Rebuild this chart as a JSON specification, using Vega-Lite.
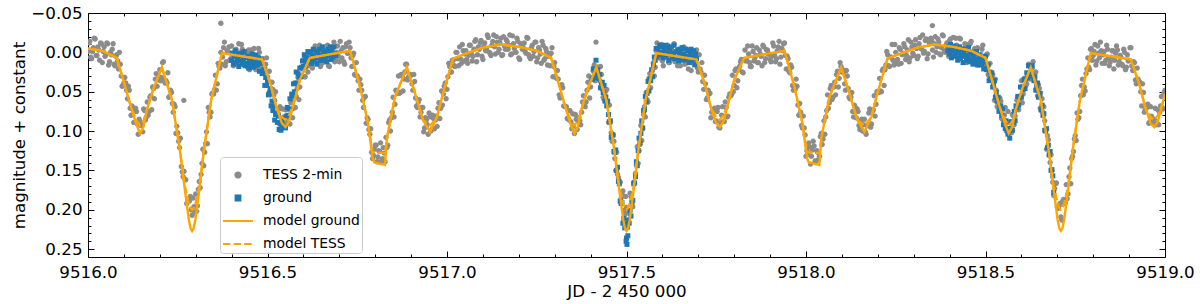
{
"$schema": "https://vega.github.io/schema/vega-lite/v6.json",
"width": 1077, "height": 244,
"autosize": {"type": "none"},
"padding": {"left": 88, "top": 13, "right": 35, "bottom": 47},
"config": {
 "font": "DejaVu Sans",
 "view": {"stroke": "#000000", "strokeWidth": 1},
 "axis": {"grid": false, "domain": false, "tickColor": "#000000", "tickWidth": 1, "labelColor": "#000000", "titleColor": "#000000", "labelFont": "DejaVu Sans", "titleFont": "DejaVu Sans", "labelFontSize": 16.7, "titleFontSize": 16.7, "titleFontWeight": "normal", "labelFlush": false, "labelOverlap": false, "labelBound": false}
},
"resolve": {"axis": {"x": "independent", "y": "independent"}},
"datasets": {
"tess": [
{"t":9516.000,"m":-0.001},{"t":9516.005,"m":-0.014},{"t":9516.010,"m":0.008},{"t":9516.015,"m":-0.006},{"t":9516.020,"m":-0.017},{"t":9516.025,"m":0.004},{"t":9516.030,"m":-0.003},{"t":9516.035,"m":-0.012},{"t":9516.040,"m":0.013},{"t":9516.045,"m":-0.007},
{"t":9516.050,"m":0.003},{"t":9516.055,"m":-0.011},{"t":9516.060,"m":0.012},{"t":9516.065,"m":0.003},{"t":9516.070,"m":-0.011},{"t":9516.075,"m":0.017},{"t":9516.080,"m":0.003},{"t":9516.085,"m":0.021},{"t":9516.090,"m":0.015},{"t":9516.095,"m":0.043},
{"t":9516.100,"m":0.039},{"t":9516.105,"m":0.039},{"t":9516.110,"m":0.059},{"t":9516.115,"m":0.048},{"t":9516.120,"m":0.080},{"t":9516.125,"m":0.072},{"t":9516.130,"m":0.089},{"t":9516.135,"m":0.075},{"t":9516.140,"m":0.104},{"t":9516.145,"m":0.088},
{"t":9516.150,"m":0.092},{"t":9516.155,"m":0.072},{"t":9516.160,"m":0.086},{"t":9516.165,"m":0.063},{"t":9516.170,"m":0.075},{"t":9516.175,"m":0.055},{"t":9516.180,"m":0.044},{"t":9516.185,"m":0.059},{"t":9516.190,"m":0.027},{"t":9516.195,"m":0.035},
{"t":9516.200,"m":0.022},{"t":9516.205,"m":0.032},{"t":9516.210,"m":0.012},{"t":9516.215,"m":0.039},{"t":9516.220,"m":0.039},{"t":9516.225,"m":0.057},{"t":9516.230,"m":0.048},{"t":9516.235,"m":0.065},{"t":9516.240,"m":0.066},{"t":9516.245,"m":0.103},
{"t":9516.250,"m":0.102},{"t":9516.255,"m":0.121},{"t":9516.260,"m":0.145},{"t":9516.265,"m":0.158},{"t":9516.270,"m":0.161},{"t":9516.275,"m":0.192},{"t":9516.280,"m":0.188},{"t":9516.285,"m":0.183},{"t":9516.290,"m":0.207},{"t":9516.295,"m":0.196},
{"t":9516.300,"m":0.180},{"t":9516.305,"m":0.195},{"t":9516.310,"m":0.164},{"t":9516.315,"m":0.155},{"t":9516.320,"m":0.123},{"t":9516.325,"m":0.127},{"t":9516.330,"m":0.101},{"t":9516.335,"m":0.070},{"t":9516.340,"m":0.082},{"t":9516.345,"m":0.053},
{"t":9516.350,"m":0.053},{"t":9516.355,"m":0.029},{"t":9516.360,"m":0.040},{"t":9516.365,"m":0.018},{"t":9516.370,"m":0.000},{"t":9516.375,"m":0.006},{"t":9516.380,"m":-0.013},{"t":9516.385,"m":0.012},{"t":9516.390,"m":-0.001},{"t":9516.395,"m":0.010},
{"t":9516.400,"m":-0.008},{"t":9516.405,"m":0.017},{"t":9516.410,"m":-0.002},{"t":9516.415,"m":0.006},{"t":9516.420,"m":-0.011},{"t":9516.425,"m":0.011},{"t":9516.430,"m":-0.004},{"t":9516.435,"m":0.016},{"t":9516.440,"m":0.003},{"t":9516.445,"m":0.000},
{"t":9516.450,"m":0.022},{"t":9516.455,"m":-0.003},{"t":9516.460,"m":0.010},{"t":9516.465,"m":0.003},{"t":9516.470,"m":0.020},{"t":9516.475,"m":-0.005},{"t":9516.480,"m":0.014},{"t":9516.485,"m":0.008},{"t":9516.490,"m":0.025},{"t":9516.495,"m":0.015},
{"t":9516.500,"m":0.031},{"t":9516.505,"m":0.024},{"t":9516.510,"m":0.054},{"t":9516.515,"m":0.047},{"t":9516.520,"m":0.061},{"t":9516.525,"m":0.078},{"t":9516.530,"m":0.078},{"t":9516.535,"m":0.069},{"t":9516.540,"m":0.094},{"t":9516.545,"m":0.082},
{"t":9516.550,"m":0.073},{"t":9516.555,"m":0.090},{"t":9516.560,"m":0.080},{"t":9516.565,"m":0.064},{"t":9516.570,"m":0.083},{"t":9516.575,"m":0.056},{"t":9516.580,"m":0.056},{"t":9516.585,"m":0.032},{"t":9516.590,"m":0.044},{"t":9516.595,"m":0.029},
{"t":9516.600,"m":0.009},{"t":9516.605,"m":0.031},{"t":9516.610,"m":0.011},{"t":9516.615,"m":0.016},{"t":9516.620,"m":-0.001},{"t":9516.625,"m":0.020},{"t":9516.630,"m":0.007},{"t":9516.635,"m":-0.001},{"t":9516.640,"m":0.010},{"t":9516.645,"m":-0.009},
{"t":9516.650,"m":0.015},{"t":9516.655,"m":0.001},{"t":9516.660,"m":0.012},{"t":9516.665,"m":-0.008},{"t":9516.670,"m":0.017},{"t":9516.675,"m":-0.002},{"t":9516.680,"m":0.004},{"t":9516.685,"m":-0.013},{"t":9516.690,"m":0.008},{"t":9516.695,"m":-0.008},
{"t":9516.700,"m":0.012},{"t":9516.705,"m":-0.002},{"t":9516.710,"m":-0.006},{"t":9516.715,"m":0.015},{"t":9516.720,"m":-0.011},{"t":9516.725,"m":0.001},{"t":9516.730,"m":-0.006},{"t":9516.735,"m":0.018},{"t":9516.740,"m":0.001},{"t":9516.745,"m":0.029},
{"t":9516.750,"m":0.030},{"t":9516.755,"m":0.048},{"t":9516.760,"m":0.041},{"t":9516.765,"m":0.061},{"t":9516.770,"m":0.057},{"t":9516.775,"m":0.090},{"t":9516.780,"m":0.085},{"t":9516.785,"m":0.104},{"t":9516.790,"m":0.127},{"t":9516.795,"m":0.131},
{"t":9516.800,"m":0.118},{"t":9516.805,"m":0.139},{"t":9516.810,"m":0.125},{"t":9516.815,"m":0.115},{"t":9516.820,"m":0.135},{"t":9516.825,"m":0.128},{"t":9516.830,"m":0.108},{"t":9516.835,"m":0.118},{"t":9516.840,"m":0.086},{"t":9516.845,"m":0.083},
{"t":9516.850,"m":0.057},{"t":9516.855,"m":0.066},{"t":9516.860,"m":0.050},{"t":9516.865,"m":0.030},{"t":9516.870,"m":0.051},{"t":9516.875,"m":0.030},{"t":9516.880,"m":0.034},{"t":9516.885,"m":0.015},{"t":9516.890,"m":0.035},{"t":9516.895,"m":0.030},
{"t":9516.900,"m":0.029},{"t":9516.905,"m":0.048},{"t":9516.910,"m":0.037},{"t":9516.915,"m":0.068},{"t":9516.920,"m":0.063},{"t":9516.925,"m":0.082},{"t":9516.930,"m":0.070},{"t":9516.935,"m":0.101},{"t":9516.940,"m":0.083},{"t":9516.945,"m":0.092},
{"t":9516.950,"m":0.077},{"t":9516.955,"m":0.100},{"t":9516.960,"m":0.080},{"t":9516.965,"m":0.097},{"t":9516.970,"m":0.081},{"t":9516.975,"m":0.071},{"t":9516.980,"m":0.084},{"t":9516.985,"m":0.049},{"t":9516.990,"m":0.053},{"t":9516.995,"m":0.039},
{"t":9517.000,"m":0.047},{"t":9517.005,"m":0.014},{"t":9517.010,"m":0.025},{"t":9517.015,"m":0.010},{"t":9517.020,"m":0.017},{"t":9517.025,"m":0.000},{"t":9517.030,"m":0.008},{"t":9517.035,"m":-0.007},{"t":9517.040,"m":0.014},{"t":9517.045,"m":-0.002},
{"t":9517.050,"m":0.002},{"t":9517.055,"m":0.009},{"t":9517.060,"m":0.004},{"t":9517.065,"m":-0.009},{"t":9517.070,"m":0.011},{"t":9517.075,"m":-0.004},{"t":9517.080,"m":-0.016},{"t":9517.085,"m":0.003},{"t":9517.090,"m":-0.004},{"t":9517.095,"m":-0.015},
{"t":9517.100,"m":0.009},{"t":9517.105,"m":-0.012},{"t":9517.110,"m":-0.004},{"t":9517.115,"m":-0.019},{"t":9517.120,"m":0.001},{"t":9517.125,"m":-0.009},{"t":9517.130,"m":-0.022},{"t":9517.135,"m":0.002},{"t":9517.140,"m":-0.013},{"t":9517.145,"m":-0.004},
{"t":9517.150,"m":-0.018},{"t":9517.155,"m":0.003},{"t":9517.160,"m":-0.008},{"t":9517.165,"m":-0.016},{"t":9517.170,"m":-0.004},{"t":9517.175,"m":-0.022},{"t":9517.180,"m":0.002},{"t":9517.185,"m":-0.011},{"t":9517.190,"m":0.000},{"t":9517.195,"m":-0.018},
{"t":9517.200,"m":0.007},{"t":9517.205,"m":-0.011},
{"t":9517.210,"m":-0.004},{"t":9517.215,"m":-0.012},{"t":9517.220,"m":0.001},{"t":9517.225,"m":-0.018},{"t":9517.230,"m":0.006},{"t":9517.235,"m":-0.006},{"t":9517.240,"m":0.005},{"t":9517.245,"m":-0.013},{"t":9517.250,"m":0.012},{"t":9517.255,"m":-0.006},
{"t":9517.260,"m":0.002},{"t":9517.265,"m":-0.014},{"t":9517.270,"m":0.010},{"t":9517.275,"m":-0.005},{"t":9517.280,"m":0.016},{"t":9517.285,"m":0.004},{"t":9517.290,"m":0.001},{"t":9517.295,"m":0.031},{"t":9517.300,"m":0.013},{"t":9517.305,"m":0.033},
{"t":9517.310,"m":0.034},{"t":9517.315,"m":0.058},{"t":9517.320,"m":0.041},{"t":9517.325,"m":0.068},{"t":9517.330,"m":0.069},{"t":9517.335,"m":0.084},{"t":9517.340,"m":0.074},{"t":9517.345,"m":0.088},{"t":9517.350,"m":0.078},{"t":9517.355,"m":0.103},
{"t":9517.360,"m":0.085},{"t":9517.365,"m":0.087},{"t":9517.370,"m":0.087},{"t":9517.375,"m":0.076},{"t":9517.380,"m":0.055},{"t":9517.385,"m":0.069},{"t":9517.390,"m":0.048},{"t":9517.395,"m":0.030},{"t":9517.400,"m":0.044},{"t":9517.405,"m":0.032},
{"t":9517.410,"m":0.016},{"t":9517.415,"m":0.035},{"t":9517.420,"m":0.019},{"t":9517.425,"m":0.036},{"t":9517.430,"m":0.028},{"t":9517.435,"m":0.057},{"t":9517.440,"m":0.054},{"t":9517.445,"m":0.047},{"t":9517.450,"m":0.089},{"t":9517.455,"m":0.089},
{"t":9517.460,"m":0.113},{"t":9517.465,"m":0.113},{"t":9517.470,"m":0.150},{"t":9517.475,"m":0.155},{"t":9517.480,"m":0.163},{"t":9517.485,"m":0.185},{"t":9517.490,"m":0.176},{"t":9517.495,"m":0.206},{"t":9517.500,"m":0.197},{"t":9517.505,"m":0.204},
{"t":9517.510,"m":0.179},{"t":9517.515,"m":0.194},{"t":9517.520,"m":0.165},{"t":9517.525,"m":0.154},{"t":9517.530,"m":0.120},{"t":9517.535,"m":0.125},{"t":9517.540,"m":0.093},{"t":9517.545,"m":0.097},{"t":9517.550,"m":0.069},{"t":9517.555,"m":0.051},
{"t":9517.560,"m":0.063},{"t":9517.565,"m":0.027},{"t":9517.570,"m":0.030},{"t":9517.575,"m":0.013},{"t":9517.580,"m":0.019},{"t":9517.585,"m":-0.012},{"t":9517.590,"m":0.007},{"t":9517.595,"m":0.001},{"t":9517.600,"m":0.011},{"t":9517.605,"m":-0.005},
{"t":9517.610,"m":0.005},{"t":9517.615,"m":-0.009},{"t":9517.620,"m":0.013},{"t":9517.625,"m":-0.001},{"t":9517.630,"m":0.004},{"t":9517.635,"m":0.012},{"t":9517.640,"m":0.009},{"t":9517.645,"m":-0.004},{"t":9517.650,"m":0.017},{"t":9517.655,"m":0.004},
{"t":9517.660,"m":-0.007},{"t":9517.665,"m":0.014},{"t":9517.670,"m":0.007},{"t":9517.675,"m":-0.003},{"t":9517.680,"m":0.023},{"t":9517.685,"m":0.002},{"t":9517.690,"m":0.011},{"t":9517.695,"m":-0.003},{"t":9517.700,"m":0.025},{"t":9517.705,"m":0.021},
{"t":9517.710,"m":0.013},{"t":9517.715,"m":0.047},{"t":9517.720,"m":0.040},{"t":9517.725,"m":0.058},{"t":9517.730,"m":0.053},{"t":9517.735,"m":0.083},{"t":9517.740,"m":0.075},{"t":9517.745,"m":0.071},{"t":9517.750,"m":0.087},{"t":9517.755,"m":0.070},
{"t":9517.760,"m":0.096},{"t":9517.765,"m":0.080},{"t":9517.770,"m":0.088},{"t":9517.775,"m":0.063},{"t":9517.780,"m":0.082},{"t":9517.785,"m":0.057},{"t":9517.790,"m":0.055},{"t":9517.795,"m":0.029},{"t":9517.800,"m":0.042},{"t":9517.805,"m":0.021},
{"t":9517.810,"m":0.036},{"t":9517.815,"m":0.018},{"t":9517.820,"m":0.009},{"t":9517.825,"m":0.026},{"t":9517.830,"m":-0.003},{"t":9517.835,"m":0.010},{"t":9517.840,"m":0.002},{"t":9517.845,"m":0.018},{"t":9517.850,"m":-0.008},{"t":9517.855,"m":0.011},
{"t":9517.860,"m":0.004},{"t":9517.865,"m":0.013},{"t":9517.870,"m":-0.003},{"t":9517.875,"m":0.005},{"t":9517.880,"m":-0.009},{"t":9517.885,"m":0.013},{"t":9517.890,"m":-0.003},{"t":9517.895,"m":0.002},{"t":9517.900,"m":0.009},{"t":9517.905,"m":0.005},
{"t":9517.910,"m":-0.008},{"t":9517.915,"m":0.012},{"t":9517.920,"m":-0.002},{"t":9517.925,"m":-0.014},{"t":9517.930,"m":0.006},{"t":9517.935,"m":-0.002},{"t":9517.940,"m":-0.012},{"t":9517.945,"m":0.021},{"t":9517.950,"m":0.008},{"t":9517.955,"m":0.026},
{"t":9517.960,"m":0.019},{"t":9517.965,"m":0.048},{"t":9517.970,"m":0.047},{"t":9517.975,"m":0.043},{"t":9517.980,"m":0.080},{"t":9517.985,"m":0.076},{"t":9517.990,"m":0.096},{"t":9517.995,"m":0.096},{"t":9518.000,"m":0.132},{"t":9518.005,"m":0.128},
{"t":9518.010,"m":0.120},{"t":9518.015,"m":0.132},{"t":9518.020,"m":0.113},{"t":9518.025,"m":0.138},{"t":9518.030,"m":0.125},{"t":9518.035,"m":0.136},{"t":9518.040,"m":0.107},{"t":9518.045,"m":0.117},{"t":9518.050,"m":0.087},{"t":9518.055,"m":0.082},
{"t":9518.060,"m":0.054},{"t":9518.065,"m":0.064},{"t":9518.070,"m":0.042},{"t":9518.075,"m":0.057},{"t":9518.080,"m":0.038},{"t":9518.085,"m":0.028},{"t":9518.090,"m":0.044},{"t":9518.095,"m":0.013},{"t":9518.100,"m":0.025},{"t":9518.105,"m":0.025},
{"t":9518.110,"m":0.048},{"t":9518.115,"m":0.030},{"t":9518.120,"m":0.057},{"t":9518.125,"m":0.057},{"t":9518.130,"m":0.075},{"t":9518.135,"m":0.067},{"t":9518.140,"m":0.083},{"t":9518.145,"m":0.075},{"t":9518.150,"m":0.098},{"t":9518.155,"m":0.085},
{"t":9518.160,"m":0.092},{"t":9518.165,"m":0.101},{"t":9518.170,"m":0.093},{"t":9518.175,"m":0.077},{"t":9518.180,"m":0.095},{"t":9518.185,"m":0.075},{"t":9518.190,"m":0.055},{"t":9518.195,"m":0.066},{"t":9518.200,"m":0.050},{"t":9518.205,"m":0.033},
{"t":9518.210,"m":0.050},{"t":9518.215,"m":0.021},{"t":9518.220,"m":0.022},{"t":9518.225,"m":-0.001},{"t":9518.230,"m":0.017},{"t":9518.235,"m":0.006},{"t":9518.240,"m":-0.010},{"t":9518.245,"m":0.016},{"t":9518.250,"m":0.000},{"t":9518.255,"m":0.009},
{"t":9518.260,"m":-0.006},{"t":9518.265,"m":0.014},{"t":9518.270,"m":0.001},{"t":9518.275,"m":-0.007},{"t":9518.280,"m":0.004},{"t":9518.285,"m":-0.016},{"t":9518.290,"m":0.007},{"t":9518.295,"m":-0.007},{"t":9518.300,"m":0.004},{"t":9518.305,"m":-0.016},
{"t":9518.310,"m":0.008},{"t":9518.315,"m":-0.011},{"t":9518.320,"m":-0.005},{"t":9518.325,"m":-0.022},{"t":9518.330,"m":-0.001},{"t":9518.335,"m":-0.017},{"t":9518.340,"m":0.002},{"t":9518.345,"m":-0.011},{"t":9518.350,"m":-0.015},{"t":9518.355,"m":0.006},
{"t":9518.360,"m":-0.020},{"t":9518.365,"m":-0.007},{"t":9518.370,"m":-0.013},{"t":9518.375,"m":0.003},{"t":9518.380,"m":-0.022},{"t":9518.385,"m":-0.002},{"t":9518.390,"m":-0.009},{"t":9518.395,"m":0.001},{"t":9518.400,"m":-0.015},{"t":9518.405,"m":-0.005},
{"t":9518.410,"m":-0.019},{"t":9518.415,"m":0.004},
{"t":9518.420,"m":-0.009},{"t":9518.425,"m":0.007},{"t":9518.430,"m":-0.017},{"t":9518.435,"m":0.002},{"t":9518.440,"m":-0.005},{"t":9518.445,"m":0.006},{"t":9518.450,"m":-0.010},{"t":9518.455,"m":0.000},{"t":9518.460,"m":-0.014},{"t":9518.465,"m":0.009},
{"t":9518.470,"m":-0.005},{"t":9518.475,"m":0.001},{"t":9518.480,"m":0.011},{"t":9518.485,"m":0.008},{"t":9518.490,"m":-0.004},{"t":9518.495,"m":0.018},{"t":9518.500,"m":0.005},{"t":9518.505,"m":0.002},{"t":9518.510,"m":0.030},{"t":9518.515,"m":0.030},
{"t":9518.520,"m":0.028},{"t":9518.525,"m":0.061},{"t":9518.530,"m":0.048},{"t":9518.535,"m":0.065},{"t":9518.540,"m":0.058},{"t":9518.545,"m":0.084},{"t":9518.550,"m":0.080},{"t":9518.555,"m":0.070},{"t":9518.560,"m":0.101},{"t":9518.565,"m":0.089},
{"t":9518.570,"m":0.096},{"t":9518.575,"m":0.079},{"t":9518.580,"m":0.092},{"t":9518.585,"m":0.073},{"t":9518.590,"m":0.057},{"t":9518.595,"m":0.062},{"t":9518.600,"m":0.036},{"t":9518.605,"m":0.053},{"t":9518.610,"m":0.034},{"t":9518.615,"m":0.040},
{"t":9518.620,"m":0.015},{"t":9518.625,"m":0.034},{"t":9518.630,"m":0.020},{"t":9518.635,"m":0.035},{"t":9518.640,"m":0.025},{"t":9518.645,"m":0.055},{"t":9518.650,"m":0.046},{"t":9518.655,"m":0.074},{"t":9518.660,"m":0.076},{"t":9518.665,"m":0.087},
{"t":9518.670,"m":0.123},{"t":9518.675,"m":0.111},{"t":9518.680,"m":0.140},{"t":9518.685,"m":0.150},{"t":9518.690,"m":0.182},{"t":9518.695,"m":0.167},{"t":9518.700,"m":0.196},{"t":9518.705,"m":0.195},{"t":9518.710,"m":0.209},{"t":9518.715,"m":0.189},
{"t":9518.720,"m":0.192},{"t":9518.725,"m":0.168},{"t":9518.730,"m":0.180},{"t":9518.735,"m":0.147},{"t":9518.740,"m":0.135},{"t":9518.745,"m":0.126},{"t":9518.750,"m":0.106},{"t":9518.755,"m":0.077},{"t":9518.760,"m":0.083},{"t":9518.765,"m":0.055},
{"t":9518.770,"m":0.034},{"t":9518.775,"m":0.044},{"t":9518.780,"m":0.027},{"t":9518.785,"m":0.007},{"t":9518.790,"m":0.022},{"t":9518.795,"m":-0.005},{"t":9518.800,"m":0.004},{"t":9518.805,"m":-0.010},{"t":9518.810,"m":0.011},{"t":9518.815,"m":0.001},
{"t":9518.820,"m":-0.013},{"t":9518.825,"m":0.014},{"t":9518.830,"m":-0.001},{"t":9518.835,"m":0.010},{"t":9518.840,"m":-0.004},{"t":9518.845,"m":0.017},{"t":9518.850,"m":0.006},{"t":9518.855,"m":-0.002},{"t":9518.860,"m":0.010},{"t":9518.865,"m":-0.008},
{"t":9518.870,"m":0.016},{"t":9518.875,"m":0.004},{"t":9518.880,"m":0.015},{"t":9518.885,"m":-0.004},{"t":9518.890,"m":0.022},{"t":9518.895,"m":0.003},{"t":9518.900,"m":0.010},{"t":9518.905,"m":-0.006},{"t":9518.910,"m":0.023},{"t":9518.915,"m":0.013},
{"t":9518.920,"m":0.040},{"t":9518.925,"m":0.034},{"t":9518.930,"m":0.038},{"t":9518.935,"m":0.068},{"t":9518.940,"m":0.051},{"t":9518.945,"m":0.073},{"t":9518.950,"m":0.070},{"t":9518.955,"m":0.090},{"t":9518.960,"m":0.069},{"t":9518.965,"m":0.090},
{"t":9518.970,"m":0.085},{"t":9518.975,"m":0.092},{"t":9518.980,"m":0.073},{"t":9518.985,"m":0.076},{"t":9518.990,"m":0.056},{"t":9518.995,"m":0.072},{"t":9519.000,"m":0.048},
{"t":9516.370,"m":-0.037},{"t":9516.267,"m":0.061},{"t":9518.352,"m":-0.034},{"t":9517.415,"m":-0.013},
{"t":9516.0025,"m":-0.012},{"t":9516.0075,"m":0.006},{"t":9516.0125,"m":-0.001},{"t":9516.0175,"m":-0.018},{"t":9516.0225,"m":0.004},{"t":9516.0275,"m":-0.007},{"t":9516.0325,"m":0.010},{"t":9516.0375,"m":-0.011},{"t":9516.0425,"m":-0.001},{"t":9516.0475,"m":0.005},
{"t":9516.0525,"m":-0.012},{"t":9516.0575,"m":0.016},{"t":9516.0625,"m":0.000},{"t":9516.0675,"m":-0.004},{"t":9516.0725,"m":0.015},{"t":9516.0775,"m":0.005},{"t":9516.0825,"m":0.011},{"t":9516.0875,"m":0.000},{"t":9516.0925,"m":0.030},{"t":9516.0975,"m":0.042},
{"t":9516.1025,"m":0.032},{"t":9516.1075,"m":0.048},{"t":9516.1125,"m":0.043},{"t":9516.1175,"m":0.071},{"t":9516.1225,"m":0.068},{"t":9516.1275,"m":0.089},{"t":9516.1325,"m":0.071},{"t":9516.1375,"m":0.091},{"t":9516.1425,"m":0.085},{"t":9516.1475,"m":0.093},
{"t":9516.1525,"m":0.101},{"t":9516.1575,"m":0.074},{"t":9516.1625,"m":0.082},{"t":9516.1675,"m":0.080},{"t":9516.1725,"m":0.057},{"t":9516.1775,"m":0.073},{"t":9516.1825,"m":0.046},{"t":9516.1875,"m":0.034},{"t":9516.1925,"m":0.043},{"t":9516.1975,"m":0.031},
{"t":9516.2025,"m":0.036},{"t":9516.2075,"m":0.013},{"t":9516.2125,"m":0.036},{"t":9516.2175,"m":0.036},{"t":9516.2225,"m":0.026},{"t":9516.2275,"m":0.056},{"t":9516.2325,"m":0.051},{"t":9516.2375,"m":0.076},{"t":9516.2425,"m":0.069},{"t":9516.2475,"m":0.094},
{"t":9516.2525,"m":0.113},{"t":9516.2575,"m":0.109},{"t":9516.2625,"m":0.152},{"t":9516.2675,"m":0.151},{"t":9516.2725,"m":0.162},{"t":9516.2775,"m":0.190},{"t":9516.2825,"m":0.189},{"t":9516.2875,"m":0.200},{"t":9516.2925,"m":0.185},{"t":9516.2975,"m":0.203},
{"t":9516.3025,"m":0.202},{"t":9516.3075,"m":0.174},{"t":9516.3125,"m":0.172},{"t":9516.3175,"m":0.141},{"t":9516.3225,"m":0.144},{"t":9516.3275,"m":0.116},{"t":9516.3325,"m":0.116},{"t":9516.3375,"m":0.076},{"t":9516.3425,"m":0.076},{"t":9516.3475,"m":0.052},
{"t":9516.3525,"m":0.047},{"t":9516.3575,"m":0.048},{"t":9516.3625,"m":0.014},{"t":9516.3675,"m":0.020},{"t":9516.3725,"m":0.015},{"t":9516.3775,"m":-0.006},{"t":9516.3825,"m":0.017},{"t":9516.3875,"m":-0.002},{"t":9516.3925,"m":-0.007},{"t":9516.3975,"m":0.008},
{"t":9516.4025,"m":0.002},{"t":9516.4075,"m":0.013},{"t":9516.4125,"m":-0.004},{"t":9516.4175,"m":0.015},{"t":9516.4225,"m":0.007},{"t":9516.4275,"m":-0.010},{"t":9516.4325,"m":0.013},{"t":9516.4375,"m":0.001},{"t":9516.4425,"m":0.018},{"t":9516.4475,"m":-0.003},
{"t":9516.4525,"m":0.007},{"t":9516.4575,"m":0.013},{"t":9516.4625,"m":-0.005},{"t":9516.4675,"m":0.022},{"t":9516.4725,"m":0.005},{"t":9516.4775,"m":0.000},{"t":9516.4825,"m":0.018},{"t":9516.4875,"m":0.008},{"t":9516.4925,"m":0.020},{"t":9516.4975,"m":0.007},
{"t":9516.5025,"m":0.036},{"t":9516.5075,"m":0.048},{"t":9516.5125,"m":0.038},{"t":9516.5175,"m":0.054},{"t":9516.5225,"m":0.050},{"t":9516.5275,"m":0.079},{"t":9516.5325,"m":0.072},{"t":9516.5375,"m":0.092},{"t":9516.5425,"m":0.072},{"t":9516.5475,"m":0.089},
{"t":9516.5525,"m":0.081},{"t":9516.5575,"m":0.083},{"t":9516.5625,"m":0.091},{"t":9516.5675,"m":0.061},{"t":9516.5725,"m":0.071},{"t":9516.5775,"m":0.070},{"t":9516.5825,"m":0.046},{"t":9516.5875,"m":0.060},{"t":9516.5925,"m":0.031},{"t":9516.5975,"m":0.021},
{"t":9516.6025,"m":0.031},{"t":9516.6075,"m":0.019},{"t":9516.6125,"m":0.025},{"t":9516.6175,"m":0.003},{"t":9516.6225,"m":0.018},{"t":9516.6275,"m":0.010},{"t":9516.6325,"m":-0.008},{"t":9516.6375,"m":0.014},{"t":9516.6425,"m":0.001},{"t":9516.6475,"m":0.018},
{"t":9516.6525,"m":-0.004},{"t":9516.6575,"m":0.005},{"t":9516.6625,"m":0.010},{"t":9516.6675,"m":-0.009},{"t":9516.6725,"m":0.018},{"t":9516.6775,"m":0.000},{"t":9516.6825,"m":-0.006},{"t":9516.6875,"m":0.012},{"t":9516.6925,"m":0.000},{"t":9516.6975,"m":0.005},
{"t":9516.7025,"m":-0.014},{"t":9516.7075,"m":0.007},{"t":9516.7125,"m":0.012},{"t":9516.7175,"m":-0.007},{"t":9516.7225,"m":0.001},{"t":9516.7275,"m":-0.013},{"t":9516.7325,"m":0.007},{"t":9516.7375,"m":0.004},{"t":9516.7425,"m":0.028},{"t":9516.7475,"m":0.013},
{"t":9516.7525,"m":0.036},{"t":9516.7575,"m":0.034},{"t":9516.7625,"m":0.048},{"t":9516.7675,"m":0.070},{"t":9516.7725,"m":0.056},{"t":9516.7775,"m":0.083},{"t":9516.7825,"m":0.098},{"t":9516.7875,"m":0.097},{"t":9516.7925,"m":0.135},{"t":9516.7975,"m":0.123},
{"t":9516.8025,"m":0.118},{"t":9516.8075,"m":0.133},{"t":9516.8125,"m":0.126},{"t":9516.8175,"m":0.138},{"t":9516.8225,"m":0.121},{"t":9516.8275,"m":0.139},{"t":9516.8325,"m":0.121},{"t":9516.8375,"m":0.089},{"t":9516.8425,"m":0.100},{"t":9516.8475,"m":0.076},
{"t":9516.8525,"m":0.082},{"t":9516.8575,"m":0.048},{"t":9516.8625,"m":0.052},{"t":9516.8675,"m":0.052},{"t":9516.8725,"m":0.028},{"t":9516.8775,"m":0.049},{"t":9516.8825,"m":0.025},{"t":9516.8875,"m":0.015},{"t":9516.8925,"m":0.032},{"t":9516.8975,"m":0.028},
{"t":9516.9025,"m":0.040},{"t":9516.9075,"m":0.028},{"t":9516.9125,"m":0.058},{"t":9516.9175,"m":0.070},{"t":9516.9225,"m":0.060},{"t":9516.9275,"m":0.076},{"t":9516.9325,"m":0.070},{"t":9516.9375,"m":0.096},{"t":9516.9425,"m":0.086},{"t":9516.9475,"m":0.104},
{"t":9516.9525,"m":0.082},{"t":9516.9575,"m":0.098},{"t":9516.9625,"m":0.084},{"t":9516.9675,"m":0.086},{"t":9516.9725,"m":0.094},{"t":9516.9775,"m":0.064},{"t":9516.9825,"m":0.071},{"t":9516.9875,"m":0.067},{"t":9516.9925,"m":0.043},{"t":9516.9975,"m":0.059},
{"t":9517.0025,"m":0.031},{"t":9517.0075,"m":0.018},{"t":9517.0125,"m":0.025},{"t":9517.0175,"m":0.010},{"t":9517.0225,"m":0.018},{"t":9517.0275,"m":0.000},{"t":9517.0325,"m":0.017},{"t":9517.0375,"m":0.008},{"t":9517.0425,"m":-0.010},{"t":9517.0475,"m":0.011},
{"t":9517.0525,"m":-0.002},{"t":9517.0575,"m":0.014},{"t":9517.0625,"m":-0.009},{"t":9517.0675,"m":0.001},{"t":9517.0725,"m":0.005},{"t":9517.0775,"m":-0.014},{"t":9517.0825,"m":0.012},{"t":9517.0875,"m":-0.007},{"t":9517.0925,"m":-0.012},{"t":9517.0975,"m":0.005},
{"t":9517.1025,"m":-0.007},{"t":9517.1075,"m":-0.002},{"t":9517.1125,"m":-0.022},{"t":9517.1175,"m":0.000},{"t":9517.1225,"m":0.004},{"t":9517.1275,"m":-0.014},{"t":9517.1325,"m":-0.007},{"t":9517.1375,"m":-0.020},{"t":9517.1425,"m":0.000},{"t":9517.1475,"m":-0.012},
{"t":9517.1525,"m":0.004},{"t":9517.1575,"m":-0.020},{"t":9517.1625,"m":-0.004},{"t":9517.1675,"m":-0.014},{"t":9517.1725,"m":-0.009},{"t":9517.1775,"m":0.003},{"t":9517.1825,"m":-0.021},{"t":9517.1875,"m":-0.005},{"t":9517.1925,"m":0.000},{"t":9517.1975,"m":-0.014},
{"t":9517.2025,"m":0.009},{"t":9517.2075,"m":-0.010},
{"t":9517.2125,"m":-0.006},{"t":9517.2175,"m":-0.001},{"t":9517.2225,"m":-0.019},{"t":9517.2275,"m":0.003},{"t":9517.2325,"m":0.008},{"t":9517.2375,"m":-0.009},{"t":9517.2425,"m":-0.001},{"t":9517.2475,"m":-0.013},{"t":9517.2525,"m":0.007},{"t":9517.2575,"m":-0.003},
{"t":9517.2625,"m":0.014},{"t":9517.2675,"m":-0.009},{"t":9517.2725,"m":0.008},{"t":9517.2775,"m":-0.001},{"t":9517.2825,"m":0.005},{"t":9517.2875,"m":0.017},{"t":9517.2925,"m":-0.006},{"t":9517.2975,"m":0.018},{"t":9517.3025,"m":0.031},{"t":9517.3075,"m":0.023},
{"t":9517.3125,"m":0.054},{"t":9517.3175,"m":0.042},{"t":9517.3225,"m":0.045},{"t":9517.3275,"m":0.068},{"t":9517.3325,"m":0.069},{"t":9517.3375,"m":0.085},{"t":9517.3425,"m":0.074},{"t":9517.3475,"m":0.097},{"t":9517.3525,"m":0.093},{"t":9517.3575,"m":0.079},
{"t":9517.3625,"m":0.098},{"t":9517.3675,"m":0.083},{"t":9517.3725,"m":0.092},{"t":9517.3775,"m":0.063},{"t":9517.3825,"m":0.065},{"t":9517.3875,"m":0.063},{"t":9517.3925,"m":0.038},{"t":9517.3975,"m":0.058},{"t":9517.4025,"m":0.034},{"t":9517.4075,"m":0.024},
{"t":9517.4125,"m":0.036},{"t":9517.4175,"m":0.019},{"t":9517.4225,"m":0.029},{"t":9517.4275,"m":0.018},{"t":9517.4325,"m":0.047},{"t":9517.4375,"m":0.060},{"t":9517.4425,"m":0.049},{"t":9517.4475,"m":0.065},{"t":9517.4525,"m":0.067},{"t":9517.4575,"m":0.102},
{"t":9517.4625,"m":0.105},{"t":9517.4675,"m":0.135},{"t":9517.4725,"m":0.127},{"t":9517.4775,"m":0.159},{"t":9517.4825,"m":0.165},{"t":9517.4875,"m":0.180},{"t":9517.4925,"m":0.201},{"t":9517.4975,"m":0.183},{"t":9517.5025,"m":0.203},{"t":9517.5075,"m":0.204},
{"t":9517.5125,"m":0.183},{"t":9517.5175,"m":0.196},{"t":9517.5225,"m":0.166},{"t":9517.5275,"m":0.143},{"t":9517.5325,"m":0.141},{"t":9517.5375,"m":0.117},{"t":9517.5425,"m":0.112},{"t":9517.5475,"m":0.079},{"t":9517.5525,"m":0.082},{"t":9517.5575,"m":0.060},
{"t":9517.5625,"m":0.033},{"t":9517.5675,"m":0.045},{"t":9517.5725,"m":0.023},{"t":9517.5775,"m":0.030},{"t":9517.5825,"m":-0.002},{"t":9517.5875,"m":0.002},{"t":9517.5925,"m":0.007},{"t":9517.5975,"m":-0.010},{"t":9517.6025,"m":0.017},{"t":9517.6075,"m":-0.001},
{"t":9517.6125,"m":-0.005},{"t":9517.6175,"m":0.013},{"t":9517.6225,"m":0.002},{"t":9517.6275,"m":0.008},{"t":9517.6325,"m":-0.011},{"t":9517.6375,"m":0.011},{"t":9517.6425,"m":0.017},{"t":9517.6475,"m":-0.001},{"t":9517.6525,"m":0.007},{"t":9517.6575,"m":-0.005},
{"t":9517.6625,"m":0.015},{"t":9517.6675,"m":0.005},{"t":9517.6725,"m":0.021},{"t":9517.6775,"m":-0.003},{"t":9517.6825,"m":0.013},{"t":9517.6875,"m":0.003},{"t":9517.6925,"m":0.008},{"t":9517.6975,"m":0.020},{"t":9517.7025,"m":0.003},{"t":9517.7075,"m":0.025},
{"t":9517.7125,"m":0.037},{"t":9517.7175,"m":0.029},{"t":9517.7225,"m":0.060},{"t":9517.7275,"m":0.048},{"t":9517.7325,"m":0.052},{"t":9517.7375,"m":0.076},{"t":9517.7425,"m":0.073},{"t":9517.7475,"m":0.088},{"t":9517.7525,"m":0.075},{"t":9517.7575,"m":0.095},
{"t":9517.7625,"m":0.089},{"t":9517.7675,"m":0.069},{"t":9517.7725,"m":0.088},{"t":9517.7775,"m":0.070},{"t":9517.7825,"m":0.081},{"t":9517.7875,"m":0.053},{"t":9517.7925,"m":0.054},{"t":9517.7975,"m":0.050},{"t":9517.8025,"m":0.023},{"t":9517.8075,"m":0.045},
{"t":9517.8125,"m":0.022},{"t":9517.8175,"m":0.012},{"t":9517.8225,"m":0.025},{"t":9517.8275,"m":0.009},{"t":9517.8325,"m":0.011},{"t":9517.8375,"m":-0.008},{"t":9517.8425,"m":0.013},{"t":9517.8475,"m":0.018},{"t":9517.8525,"m":-0.001},{"t":9517.8575,"m":0.007},
{"t":9517.8625,"m":-0.006},{"t":9517.8675,"m":0.013},{"t":9517.8725,"m":0.002},{"t":9517.8775,"m":0.017},{"t":9517.8825,"m":-0.007},{"t":9517.8875,"m":0.008},{"t":9517.8925,"m":-0.003},{"t":9517.8975,"m":0.002},{"t":9517.9025,"m":0.012},{"t":9517.9075,"m":-0.012},
{"t":9517.9125,"m":0.004},{"t":9517.9175,"m":0.008},{"t":9517.9225,"m":-0.007},{"t":9517.9275,"m":0.015},{"t":9517.9325,"m":-0.005},{"t":9517.9375,"m":-0.011},{"t":9517.9425,"m":0.004},{"t":9517.9475,"m":0.005},{"t":9517.9525,"m":0.024},{"t":9517.9575,"m":0.016},
{"t":9517.9625,"m":0.042},{"t":9517.9675,"m":0.042},{"t":9517.9725,"m":0.034},{"t":9517.9775,"m":0.067},{"t":9517.9825,"m":0.065},{"t":9517.9875,"m":0.093},{"t":9517.9925,"m":0.081},{"t":9517.9975,"m":0.105},{"t":9518.0025,"m":0.125},{"t":9518.0075,"m":0.115},
{"t":9518.0125,"m":0.142},{"t":9518.0175,"m":0.124},{"t":9518.0225,"m":0.119},{"t":9518.0275,"m":0.138},{"t":9518.0325,"m":0.127},{"t":9518.0375,"m":0.132},{"t":9518.0425,"m":0.103},{"t":9518.0475,"m":0.110},{"t":9518.0525,"m":0.104},{"t":9518.0575,"m":0.074},
{"t":9518.0625,"m":0.071},{"t":9518.0675,"m":0.046},{"t":9518.0725,"m":0.060},{"t":9518.0775,"m":0.044},{"t":9518.0825,"m":0.054},{"t":9518.0875,"m":0.024},{"t":9518.0925,"m":0.033},{"t":9518.0975,"m":0.018},{"t":9518.1025,"m":0.022},{"t":9518.1075,"m":0.040},
{"t":9518.1125,"m":0.023},{"t":9518.1175,"m":0.046},{"t":9518.1225,"m":0.059},{"t":9518.1275,"m":0.051},{"t":9518.1325,"m":0.082},{"t":9518.1375,"m":0.070},{"t":9518.1425,"m":0.072},{"t":9518.1475,"m":0.093},{"t":9518.1525,"m":0.087},{"t":9518.1575,"m":0.100},
{"t":9518.1625,"m":0.085},{"t":9518.1675,"m":0.104},{"t":9518.1725,"m":0.092},{"t":9518.1775,"m":0.072},{"t":9518.1825,"m":0.091},{"t":9518.1875,"m":0.073},{"t":9518.1925,"m":0.081},{"t":9518.1975,"m":0.050},{"t":9518.2025,"m":0.051},{"t":9518.2075,"m":0.049},
{"t":9518.2125,"m":0.023},{"t":9518.2175,"m":0.042},{"t":9518.2225,"m":0.016},{"t":9518.2275,"m":0.003},{"t":9518.2325,"m":0.018},{"t":9518.2375,"m":0.006},{"t":9518.2425,"m":0.010},{"t":9518.2475,"m":-0.010},{"t":9518.2525,"m":0.011},{"t":9518.2575,"m":0.015},
{"t":9518.2625,"m":-0.004},{"t":9518.2675,"m":0.003},{"t":9518.2725,"m":-0.011},{"t":9518.2775,"m":0.009},{"t":9518.2825,"m":-0.003},{"t":9518.2875,"m":0.012},{"t":9518.2925,"m":-0.013},{"t":9518.2975,"m":0.001},{"t":9518.3025,"m":-0.009},{"t":9518.3075,"m":-0.005},
{"t":9518.3125,"m":0.005},{"t":9518.3175,"m":-0.019},{"t":9518.3225,"m":-0.004},{"t":9518.3275,"m":0.001},{"t":9518.3325,"m":-0.015},{"t":9518.3375,"m":0.008},{"t":9518.3425,"m":-0.013},{"t":9518.3475,"m":-0.018},{"t":9518.3525,"m":-0.003},{"t":9518.3575,"m":-0.011},
{"t":9518.3625,"m":0.000},{"t":9518.3675,"m":-0.017},{"t":9518.3725,"m":0.002},{"t":9518.3775,"m":-0.006},{"t":9518.3825,"m":-0.021},{"t":9518.3875,"m":0.000},{"t":9518.3925,"m":-0.012},{"t":9518.3975,"m":0.005},{"t":9518.4025,"m":-0.017},{"t":9518.4075,"m":-0.006},
{"t":9518.4125,"m":-0.001},{"t":9518.4175,"m":-0.018},
{"t":9518.4225,"m":0.006},{"t":9518.4275,"m":-0.018},{"t":9518.4325,"m":-0.001},{"t":9518.4375,"m":0.004},{"t":9518.4425,"m":-0.011},{"t":9518.4475,"m":0.013},{"t":9518.4525,"m":-0.007},{"t":9518.4575,"m":-0.011},{"t":9518.4625,"m":0.004},{"t":9518.4675,"m":-0.002},
{"t":9518.4725,"m":0.010},{"t":9518.4775,"m":-0.006},{"t":9518.4825,"m":0.014},{"t":9518.4875,"m":0.007},{"t":9518.4925,"m":-0.009},{"t":9518.4975,"m":0.014},{"t":9518.5025,"m":0.003},{"t":9518.5075,"m":0.028},{"t":9518.5125,"m":0.014},{"t":9518.5175,"m":0.031},
{"t":9518.5225,"m":0.044},{"t":9518.5275,"m":0.034},{"t":9518.5325,"m":0.069},{"t":9518.5375,"m":0.059},{"t":9518.5425,"m":0.062},{"t":9518.5475,"m":0.085},{"t":9518.5525,"m":0.080},{"t":9518.5575,"m":0.090},{"t":9518.5625,"m":0.075},{"t":9518.5675,"m":0.100},
{"t":9518.5725,"m":0.102},{"t":9518.5775,"m":0.081},{"t":9518.5825,"m":0.081},{"t":9518.5875,"m":0.061},{"t":9518.5925,"m":0.073},{"t":9518.5975,"m":0.055},{"t":9518.6025,"m":0.064},{"t":9518.6075,"m":0.033},{"t":9518.6125,"m":0.042},{"t":9518.6175,"m":0.027},
{"t":9518.6225,"m":0.026},{"t":9518.6275,"m":0.031},{"t":9518.6325,"m":0.012},{"t":9518.6375,"m":0.036},{"t":9518.6425,"m":0.048},{"t":9518.6475,"m":0.041},{"t":9518.6525,"m":0.071},{"t":9518.6575,"m":0.059},{"t":9518.6625,"m":0.069},{"t":9518.6675,"m":0.099},
{"t":9518.6725,"m":0.106},{"t":9518.6775,"m":0.131},{"t":9518.6825,"m":0.130},{"t":9518.6875,"m":0.165},{"t":9518.6925,"m":0.173},{"t":9518.6975,"m":0.166},{"t":9518.7025,"m":0.198},{"t":9518.7075,"m":0.192},{"t":9518.7125,"m":0.213},{"t":9518.7175,"m":0.187},
{"t":9518.7225,"m":0.191},{"t":9518.7275,"m":0.186},{"t":9518.7325,"m":0.158},{"t":9518.7375,"m":0.167},{"t":9518.7425,"m":0.132},{"t":9518.7475,"m":0.110},{"t":9518.7525,"m":0.112},{"t":9518.7575,"m":0.085},{"t":9518.7625,"m":0.075},{"t":9518.7675,"m":0.042},
{"t":9518.7725,"m":0.054},{"t":9518.7775,"m":0.049},{"t":9518.7825,"m":0.021},{"t":9518.7875,"m":0.019},{"t":9518.7925,"m":-0.004},{"t":9518.7975,"m":0.010},{"t":9518.8025,"m":-0.001},{"t":9518.8075,"m":0.016},{"t":9518.8125,"m":-0.008},{"t":9518.8175,"m":0.007},
{"t":9518.8225,"m":-0.002},{"t":9518.8275,"m":0.003},{"t":9518.8325,"m":0.014},{"t":9518.8375,"m":-0.009},{"t":9518.8425,"m":0.007},{"t":9518.8475,"m":0.012},{"t":9518.8525,"m":-0.002},{"t":9518.8575,"m":0.021},{"t":9518.8625,"m":0.001},{"t":9518.8675,"m":-0.003},
{"t":9518.8725,"m":0.012},{"t":9518.8775,"m":0.006},{"t":9518.8825,"m":0.017},{"t":9518.8875,"m":0.000},{"t":9518.8925,"m":0.019},{"t":9518.8975,"m":0.011},{"t":9518.9025,"m":-0.006},{"t":9518.9075,"m":0.017},{"t":9518.9125,"m":0.012},{"t":9518.9175,"m":0.035},
{"t":9518.9225,"m":0.020},{"t":9518.9275,"m":0.037},{"t":9518.9325,"m":0.050},{"t":9518.9375,"m":0.040},{"t":9518.9425,"m":0.076},{"t":9518.9475,"m":0.067},{"t":9518.9525,"m":0.066},{"t":9518.9575,"m":0.088},{"t":9518.9625,"m":0.081},{"t":9518.9675,"m":0.088},
{"t":9518.9725,"m":0.071},{"t":9518.9775,"m":0.090},{"t":9518.9825,"m":0.092},{"t":9518.9875,"m":0.068},{"t":9518.9925,"m":0.070},{"t":9518.9975,"m":0.051}
],
"ground": [
{"t":9516.4000,"m":0.010},{"t":9516.4025,"m":0.001},{"t":9516.4050,"m":0.015},{"t":9516.4075,"m":0.005},{"t":9516.4100,"m":-0.002},{"t":9516.4125,"m":0.013},{"t":9516.4150,"m":0.009},{"t":9516.4175,"m":0.001},{"t":9516.4200,"m":0.018},{"t":9516.4225,"m":0.004},
{"t":9516.4250,"m":0.011},{"t":9516.4275,"m":0.001},{"t":9516.4300,"m":0.015},{"t":9516.4325,"m":0.009},{"t":9516.4350,"m":-0.001},{"t":9516.4375,"m":0.017},{"t":9516.4400,"m":0.007},{"t":9516.4425,"m":0.014},{"t":9516.4450,"m":0.005},{"t":9516.4475,"m":0.020},
{"t":9516.4500,"m":0.010},{"t":9516.4525,"m":0.005},{"t":9516.4550,"m":0.014},{"t":9516.4575,"m":0.002},{"t":9516.4600,"m":0.019},{"t":9516.4625,"m":0.010},{"t":9516.4650,"m":0.017},{"t":9516.4675,"m":0.004},{"t":9516.4700,"m":0.013},{"t":9516.4725,"m":0.016},
{"t":9516.4750,"m":0.007},{"t":9516.4775,"m":0.024},{"t":9516.4800,"m":0.014},{"t":9516.4825,"m":0.010},{"t":9516.4850,"m":0.027},{"t":9516.4875,"m":0.026},{"t":9516.4900,"m":0.022},{"t":9516.4925,"m":0.042},{"t":9516.4950,"m":0.032},{"t":9516.4975,"m":0.042},
{"t":9516.5000,"m":0.036},{"t":9516.5025,"m":0.054},{"t":9516.5050,"m":0.052},{"t":9516.5075,"m":0.046},{"t":9516.5100,"m":0.068},{"t":9516.5125,"m":0.062},{"t":9516.5150,"m":0.074},{"t":9516.5175,"m":0.068},{"t":9516.5200,"m":0.086},{"t":9516.5225,"m":0.079},
{"t":9516.5250,"m":0.077},{"t":9516.5275,"m":0.089},{"t":9516.5300,"m":0.081},{"t":9516.5325,"m":0.098},{"t":9516.5350,"m":0.091},{"t":9516.5375,"m":0.099},{"t":9516.5400,"m":0.087},{"t":9516.5425,"m":0.094},{"t":9516.5450,"m":0.095},{"t":9516.5475,"m":0.084},
{"t":9516.5500,"m":0.096},{"t":9516.5525,"m":0.081},{"t":9516.5550,"m":0.070},{"t":9516.5575,"m":0.080},{"t":9516.5600,"m":0.072},{"t":9516.5625,"m":0.059},{"t":9516.5650,"m":0.072},{"t":9516.5675,"m":0.053},{"t":9516.5700,"m":0.055},{"t":9516.5725,"m":0.040},
{"t":9516.5750,"m":0.050},{"t":9516.5775,"m":0.039},{"t":9516.5800,"m":0.025},{"t":9516.5825,"m":0.039},{"t":9516.5850,"m":0.027},{"t":9516.5875,"m":0.031},{"t":9516.5900,"m":0.020},{"t":9516.5925,"m":0.031},{"t":9516.5950,"m":0.019},{"t":9516.5975,"m":0.011},
{"t":9516.6000,"m":0.018},{"t":9516.6025,"m":0.003},{"t":9516.6050,"m":0.017},{"t":9516.6075,"m":0.006},{"t":9516.6100,"m":0.012},{"t":9516.6125,"m":-0.001},{"t":9516.6150,"m":0.008},{"t":9516.6175,"m":0.009},{"t":9516.6200,"m":0.000},{"t":9516.6225,"m":0.014},
{"t":9516.6250,"m":0.004},{"t":9516.6275,"m":-0.004},{"t":9516.6300,"m":0.010},{"t":9516.6325,"m":0.006},{"t":9516.6350,"m":-0.002},{"t":9516.6375,"m":0.015},{"t":9516.6400,"m":0.001},{"t":9516.6425,"m":0.006},{"t":9516.6450,"m":-0.004},{"t":9516.6475,"m":0.010},
{"t":9516.6500,"m":0.004},{"t":9516.6525,"m":-0.007},{"t":9516.6550,"m":0.010},{"t":9516.6575,"m":0.000},{"t":9516.6600,"m":0.007},{"t":9516.6625,"m":-0.002},{"t":9516.6650,"m":0.012},{"t":9516.6675,"m":0.001},{"t":9516.6700,"m":-0.004},{"t":9516.6725,"m":0.005},
{"t":9516.6750,"m":-0.007},{"t":9516.6775,"m":0.009},{"t":9516.6800,"m":-0.001},{"t":9516.6825,"m":0.006},{"t":9516.6850,"m":-0.007},{"t":9516.6875,"m":0.002},{"t":9516.6900,"m":0.004},
{"t":9517.4050,"m":0.034},{"t":9517.4075,"m":0.021},{"t":9517.4100,"m":0.032},{"t":9517.4125,"m":0.023},{"t":9517.4150,"m":0.010},{"t":9517.4175,"m":0.029},{"t":9517.4200,"m":0.022},{"t":9517.4225,"m":0.033},{"t":9517.4250,"m":0.028},{"t":9517.4275,"m":0.045},
{"t":9517.4300,"m":0.039},{"t":9517.4325,"m":0.038},{"t":9517.4350,"m":0.051},{"t":9517.4375,"m":0.042},{"t":9517.4400,"m":0.062},{"t":9517.4425,"m":0.057},{"t":9517.4450,"m":0.068},{"t":9517.4475,"m":0.062},{"t":9517.4500,"m":0.079},{"t":9517.4525,"m":0.088},
{"t":9517.4550,"m":0.087},{"t":9517.4575,"m":0.108},{"t":9517.4600,"m":0.105},{"t":9517.4625,"m":0.105},{"t":9517.4650,"m":0.126},{"t":9517.4675,"m":0.127},{"t":9517.4700,"m":0.124},{"t":9517.4725,"m":0.150},{"t":9517.4750,"m":0.146},{"t":9517.4775,"m":0.164},
{"t":9517.4800,"m":0.167},{"t":9517.4825,"m":0.189},{"t":9517.4850,"m":0.192},{"t":9517.4875,"m":0.191},{"t":9517.4900,"m":0.217},{"t":9517.4925,"m":0.211},{"t":9517.4950,"m":0.223},{"t":9517.4975,"m":0.218},{"t":9517.5000,"m":0.236},{"t":9517.5025,"m":0.222},
{"t":9517.5050,"m":0.213},{"t":9517.5075,"m":0.217},{"t":9517.5100,"m":0.201},{"t":9517.5125,"m":0.208},{"t":9517.5150,"m":0.190},{"t":9517.5175,"m":0.188},{"t":9517.5200,"m":0.167},{"t":9517.5225,"m":0.166},{"t":9517.5250,"m":0.158},{"t":9517.5275,"m":0.139},
{"t":9517.5300,"m":0.144},{"t":9517.5325,"m":0.125},{"t":9517.5350,"m":0.109},{"t":9517.5375,"m":0.115},{"t":9517.5400,"m":0.103},{"t":9517.5425,"m":0.087},{"t":9517.5450,"m":0.096},{"t":9517.5475,"m":0.074},{"t":9517.5500,"m":0.073},{"t":9517.5525,"m":0.056},
{"t":9517.5550,"m":0.063},{"t":9517.5575,"m":0.052},{"t":9517.5600,"m":0.037},{"t":9517.5625,"m":0.049},{"t":9517.5650,"m":0.034},{"t":9517.5675,"m":0.036},{"t":9517.5700,"m":0.022},{"t":9517.5725,"m":0.031},{"t":9517.5750,"m":0.016},{"t":9517.5775,"m":0.006},
{"t":9517.5800,"m":0.010},{"t":9517.5825,"m":-0.005},{"t":9517.5850,"m":0.005},{"t":9517.5875,"m":-0.004},{"t":9517.5900,"m":0.003},{"t":9517.5925,"m":-0.009},{"t":9517.5950,"m":0.000},{"t":9517.5975,"m":0.002},{"t":9517.6000,"m":-0.007},{"t":9517.6025,"m":0.007},
{"t":9517.6050,"m":-0.003},{"t":9517.6075,"m":-0.009},{"t":9517.6100,"m":0.005},{"t":9517.6125,"m":0.001},{"t":9517.6150,"m":-0.007},{"t":9517.6175,"m":0.010},{"t":9517.6200,"m":-0.004},{"t":9517.6225,"m":0.003},{"t":9517.6250,"m":-0.007},{"t":9517.6275,"m":0.007},
{"t":9517.6300,"m":0.001},{"t":9517.6325,"m":-0.009},{"t":9517.6350,"m":0.008},{"t":9517.6375,"m":-0.001},{"t":9517.6400,"m":0.006},{"t":9517.6425,"m":-0.003},{"t":9517.6450,"m":0.011},{"t":9517.6475,"m":0.001},{"t":9517.6500,"m":-0.004},{"t":9517.6525,"m":0.006},
{"t":9517.6550,"m":-0.006},{"t":9517.6575,"m":0.010},{"t":9517.6600,"m":0.002},{"t":9517.6625,"m":0.009},{"t":9517.6650,"m":-0.004},{"t":9517.6675,"m":0.005},{"t":9517.6700,"m":0.007},{"t":9517.6725,"m":-0.002},{"t":9517.6750,"m":0.013},{"t":9517.6775,"m":0.003},
{"t":9517.6800,"m":-0.004},{"t":9517.6825,"m":0.010},{"t":9517.6850,"m":0.006},{"t":9517.6875,"m":-0.002},{"t":9517.6900,"m":0.016},{"t":9517.6925,"m":0.002},{"t":9517.6950,"m":0.008},
{"t":9517.5013,"m":0.244},{"t":9517.4988,"m":0.240},{"t":9517.5038,"m":0.233},
{"t":9518.3950,"m":-0.002},{"t":9518.3975,"m":-0.007},{"t":9518.4000,"m":0.002},{"t":9518.4025,"m":-0.010},{"t":9518.4050,"m":0.007},{"t":9518.4075,"m":-0.002},{"t":9518.4100,"m":0.005},{"t":9518.4125,"m":-0.008},{"t":9518.4150,"m":0.002},{"t":9518.4175,"m":0.004},
{"t":9518.4200,"m":-0.004},{"t":9518.4225,"m":0.010},{"t":9518.4250,"m":0.000},{"t":9518.4275,"m":-0.007},{"t":9518.4300,"m":0.008},{"t":9518.4325,"m":0.004},{"t":9518.4350,"m":-0.004},{"t":9518.4375,"m":0.013},{"t":9518.4400,"m":-0.001},{"t":9518.4425,"m":0.005},
{"t":9518.4450,"m":-0.004},{"t":9518.4475,"m":0.010},{"t":9518.4500,"m":0.004},{"t":9518.4525,"m":-0.006},{"t":9518.4550,"m":0.012},{"t":9518.4575,"m":0.002},{"t":9518.4600,"m":0.009},{"t":9518.4625,"m":0.000},{"t":9518.4650,"m":0.015},{"t":9518.4675,"m":0.005},
{"t":9518.4700,"m":0.001},{"t":9518.4725,"m":0.011},{"t":9518.4750,"m":-0.001},{"t":9518.4775,"m":0.016},{"t":9518.4800,"m":0.008},{"t":9518.4825,"m":0.016},{"t":9518.4850,"m":0.003},{"t":9518.4875,"m":0.013},{"t":9518.4900,"m":0.015},{"t":9518.4925,"m":0.007},
{"t":9518.4950,"m":0.021},{"t":9518.4975,"m":0.012},{"t":9518.5000,"m":0.005},{"t":9518.5025,"m":0.022},{"t":9518.5050,"m":0.021},{"t":9518.5075,"m":0.016},{"t":9518.5100,"m":0.036},{"t":9518.5125,"m":0.025},{"t":9518.5150,"m":0.033},{"t":9518.5175,"m":0.026},
{"t":9518.5200,"m":0.044},{"t":9518.5225,"m":0.042},{"t":9518.5250,"m":0.036},{"t":9518.5275,"m":0.057},{"t":9518.5300,"m":0.051},{"t":9518.5325,"m":0.062},{"t":9518.5350,"m":0.057},{"t":9518.5375,"m":0.075},{"t":9518.5400,"m":0.069},{"t":9518.5425,"m":0.068},
{"t":9518.5450,"m":0.080},{"t":9518.5475,"m":0.072},{"t":9518.5500,"m":0.092},{"t":9518.5525,"m":0.087},{"t":9518.5550,"m":0.097},{"t":9518.5575,"m":0.087},{"t":9518.5600,"m":0.099},{"t":9518.5625,"m":0.104},{"t":9518.5650,"m":0.097},{"t":9518.5675,"m":0.109},
{"t":9518.5700,"m":0.097},{"t":9518.5725,"m":0.088},{"t":9518.5750,"m":0.099},{"t":9518.5775,"m":0.089},{"t":9518.5800,"m":0.075},{"t":9518.5825,"m":0.087},{"t":9518.5850,"m":0.068},{"t":9518.5875,"m":0.070},{"t":9518.5900,"m":0.056},{"t":9518.5925,"m":0.067},
{"t":9518.5950,"m":0.057},{"t":9518.5975,"m":0.044},{"t":9518.6000,"m":0.057},{"t":9518.6025,"m":0.044},{"t":9518.6050,"m":0.047},{"t":9518.6075,"m":0.035},{"t":9518.6100,"m":0.046},{"t":9518.6125,"m":0.034},{"t":9518.6150,"m":0.026},{"t":9518.6175,"m":0.032},
{"t":9518.6200,"m":0.017},{"t":9518.6225,"m":0.030},{"t":9518.6250,"m":0.018},{"t":9518.6275,"m":0.028},{"t":9518.6300,"m":0.017},{"t":9518.6325,"m":0.030},{"t":9518.6350,"m":0.036},{"t":9518.6375,"m":0.031},{"t":9518.6400,"m":0.048},{"t":9518.6425,"m":0.042},
{"t":9518.6450,"m":0.039},{"t":9518.6475,"m":0.057},{"t":9518.6500,"m":0.056},{"t":9518.6525,"m":0.052},{"t":9518.6550,"m":0.073},{"t":9518.6575,"m":0.067},{"t":9518.6600,"m":0.080},{"t":9518.6625,"m":0.078},{"t":9518.6650,"m":0.099},{"t":9518.6675,"m":0.100},
{"t":9518.6700,"m":0.097},{"t":9518.6725,"m":0.121},{"t":9518.6750,"m":0.118},{"t":9518.6775,"m":0.130},{"t":9518.6800,"m":0.126},{"t":9518.6825,"m":0.150},{"t":9518.6850,"m":0.149},{"t":9518.6875,"m":0.157},{"t":9518.6900,"m":0.178}
],
"mg": [
{"t":9516.000,"m":-0.005},{"t":9516.040,"m":-0.002},{"t":9516.080,"m":0.007},{"t":9516.100,"m":0.038},{"t":9516.120,"m":0.070},{"t":9516.135,"m":0.092},{"t":9516.145,"m":0.103},{"t":9516.155,"m":0.094},{"t":9516.164,"m":0.073},{"t":9516.184,"m":0.044},{"t":9516.206,"m":0.019},{"t":9516.234,"m":0.061},{"t":9516.256,"m":0.124},{"t":9516.270,"m":0.175},{"t":9516.281,"m":0.213},{"t":9516.286,"m":0.224},{"t":9516.290,"m":0.227},{"t":9516.294,"m":0.224},{"t":9516.299,"m":0.213},{"t":9516.310,"m":0.175},{"t":9516.323,"m":0.124},{"t":9516.343,"m":0.061},{"t":9516.373,"m":0.001},{"t":9516.485,"m":0.009},{"t":9516.508,"m":0.040},{"t":9516.525,"m":0.070},{"t":9516.540,"m":0.090},{"t":9516.550,"m":0.095},{"t":9516.560,"m":0.088},{"t":9516.575,"m":0.062},{"t":9516.590,"m":0.035},{"t":9516.618,"m":0.007},{"t":9516.730,"m":-0.002},{"t":9516.758,"m":0.044},{"t":9516.780,"m":0.090},{"t":9516.793,"m":0.135},{"t":9516.798,"m":0.140},{"t":9516.827,"m":0.143},{"t":9516.833,"m":0.108},{"t":9516.855,"m":0.057},{"t":9516.888,"m":0.019},{"t":9516.911,"m":0.052},{"t":9516.933,"m":0.086},{"t":9516.953,"m":0.101},{"t":9516.972,"m":0.082},{"t":9516.989,"m":0.052},{"t":9517.017,"m":0.008},{"t":9517.050,"m":0.002},{"t":9517.100,"m":-0.006},{"t":9517.148,"m":-0.010},{"t":9517.200,"m":-0.007},
{"t":9517.250,"m":-0.002},{"t":9517.290,"m":0.007},{"t":9517.310,"m":0.038},{"t":9517.330,"m":0.070},{"t":9517.345,"m":0.092},{"t":9517.355,"m":0.103},{"t":9517.365,"m":0.094},{"t":9517.374,"m":0.073},{"t":9517.394,"m":0.044},{"t":9517.416,"m":0.019},{"t":9517.444,"m":0.061},{"t":9517.466,"m":0.124},{"t":9517.480,"m":0.175},{"t":9517.491,"m":0.213},{"t":9517.496,"m":0.224},{"t":9517.500,"m":0.227},{"t":9517.504,"m":0.224},{"t":9517.509,"m":0.213},{"t":9517.520,"m":0.175},{"t":9517.533,"m":0.124},{"t":9517.553,"m":0.061},{"t":9517.583,"m":0.001},{"t":9517.695,"m":0.009},{"t":9517.718,"m":0.040},{"t":9517.735,"m":0.070},{"t":9517.750,"m":0.090},{"t":9517.760,"m":0.095},{"t":9517.770,"m":0.088},{"t":9517.785,"m":0.062},{"t":9517.800,"m":0.035},{"t":9517.828,"m":0.007},{"t":9517.940,"m":-0.002},{"t":9517.968,"m":0.044},{"t":9517.990,"m":0.090},{"t":9518.003,"m":0.135},{"t":9518.008,"m":0.140},{"t":9518.037,"m":0.143},{"t":9518.043,"m":0.108},{"t":9518.065,"m":0.057},{"t":9518.098,"m":0.019},{"t":9518.121,"m":0.052},{"t":9518.143,"m":0.086},{"t":9518.163,"m":0.101},{"t":9518.182,"m":0.082},{"t":9518.199,"m":0.052},{"t":9518.227,"m":0.008},{"t":9518.260,"m":0.002},{"t":9518.310,"m":-0.006},{"t":9518.358,"m":-0.010},{"t":9518.410,"m":-0.007},
{"t":9518.460,"m":-0.002},{"t":9518.500,"m":0.007},{"t":9518.520,"m":0.038},{"t":9518.540,"m":0.070},{"t":9518.555,"m":0.092},{"t":9518.565,"m":0.103},{"t":9518.575,"m":0.094},{"t":9518.584,"m":0.073},{"t":9518.604,"m":0.044},{"t":9518.626,"m":0.019},{"t":9518.654,"m":0.061},{"t":9518.676,"m":0.124},{"t":9518.690,"m":0.175},{"t":9518.701,"m":0.213},{"t":9518.706,"m":0.224},{"t":9518.710,"m":0.227},{"t":9518.714,"m":0.224},{"t":9518.719,"m":0.213},{"t":9518.730,"m":0.175},{"t":9518.743,"m":0.124},{"t":9518.763,"m":0.061},{"t":9518.793,"m":0.001},{"t":9518.905,"m":0.009},{"t":9518.928,"m":0.040},{"t":9518.945,"m":0.070},{"t":9518.960,"m":0.090},{"t":9518.970,"m":0.095},{"t":9518.980,"m":0.088},{"t":9518.995,"m":0.062},{"t":9519.000,"m":0.053}
],
"mt": [
{"t":9516.000,"m":-0.005},{"t":9516.040,"m":-0.002},{"t":9516.080,"m":0.007},{"t":9516.100,"m":0.038},{"t":9516.120,"m":0.070},{"t":9516.135,"m":0.086},{"t":9516.145,"m":0.093},{"t":9516.155,"m":0.087},{"t":9516.164,"m":0.073},{"t":9516.184,"m":0.044},{"t":9516.206,"m":0.019},{"t":9516.234,"m":0.061},{"t":9516.256,"m":0.124},{"t":9516.270,"m":0.170},{"t":9516.281,"m":0.192},{"t":9516.286,"m":0.198},{"t":9516.290,"m":0.200},{"t":9516.294,"m":0.198},{"t":9516.299,"m":0.192},{"t":9516.310,"m":0.170},{"t":9516.323,"m":0.124},{"t":9516.343,"m":0.061},{"t":9516.373,"m":0.001},{"t":9516.485,"m":0.009},{"t":9516.508,"m":0.040},{"t":9516.525,"m":0.070},{"t":9516.540,"m":0.082},{"t":9516.550,"m":0.086},{"t":9516.560,"m":0.080},{"t":9516.575,"m":0.062},{"t":9516.590,"m":0.035},{"t":9516.618,"m":0.007},{"t":9516.730,"m":-0.002},{"t":9516.758,"m":0.044},{"t":9516.780,"m":0.090},{"t":9516.793,"m":0.127},{"t":9516.798,"m":0.127},{"t":9516.827,"m":0.128},{"t":9516.833,"m":0.108},{"t":9516.855,"m":0.057},{"t":9516.888,"m":0.019},{"t":9516.911,"m":0.052},{"t":9516.933,"m":0.086},{"t":9516.945,"m":0.090},{"t":9516.953,"m":0.093},{"t":9516.962,"m":0.088},{"t":9516.972,"m":0.082},{"t":9516.989,"m":0.052},{"t":9517.017,"m":0.008},{"t":9517.050,"m":0.002},{"t":9517.100,"m":-0.006},{"t":9517.148,"m":-0.010},{"t":9517.200,"m":-0.007},
{"t":9517.250,"m":-0.002},{"t":9517.290,"m":0.007},{"t":9517.310,"m":0.038},{"t":9517.330,"m":0.070},{"t":9517.345,"m":0.086},{"t":9517.355,"m":0.093},{"t":9517.365,"m":0.087},{"t":9517.374,"m":0.073},{"t":9517.394,"m":0.044},{"t":9517.416,"m":0.019},{"t":9517.444,"m":0.061},{"t":9517.466,"m":0.124},{"t":9517.480,"m":0.170},{"t":9517.491,"m":0.192},{"t":9517.496,"m":0.198},{"t":9517.500,"m":0.200},{"t":9517.504,"m":0.198},{"t":9517.509,"m":0.192},{"t":9517.520,"m":0.170},{"t":9517.533,"m":0.124},{"t":9517.553,"m":0.061},{"t":9517.583,"m":0.001},{"t":9517.695,"m":0.009},{"t":9517.718,"m":0.040},{"t":9517.735,"m":0.070},{"t":9517.750,"m":0.082},{"t":9517.760,"m":0.086},{"t":9517.770,"m":0.080},{"t":9517.785,"m":0.062},{"t":9517.800,"m":0.035},{"t":9517.828,"m":0.007},{"t":9517.940,"m":-0.002},{"t":9517.968,"m":0.044},{"t":9517.990,"m":0.090},{"t":9518.003,"m":0.127},{"t":9518.008,"m":0.127},{"t":9518.037,"m":0.128},{"t":9518.043,"m":0.108},{"t":9518.065,"m":0.057},{"t":9518.098,"m":0.019},{"t":9518.121,"m":0.052},{"t":9518.143,"m":0.086},{"t":9518.155,"m":0.090},{"t":9518.163,"m":0.093},{"t":9518.172,"m":0.088},{"t":9518.182,"m":0.082},{"t":9518.199,"m":0.052},{"t":9518.227,"m":0.008},{"t":9518.260,"m":0.002},{"t":9518.310,"m":-0.006},{"t":9518.358,"m":-0.010},{"t":9518.410,"m":-0.007},
{"t":9518.460,"m":-0.002},{"t":9518.500,"m":0.007},{"t":9518.520,"m":0.038},{"t":9518.540,"m":0.070},{"t":9518.555,"m":0.086},{"t":9518.565,"m":0.093},{"t":9518.575,"m":0.087},{"t":9518.584,"m":0.073},{"t":9518.604,"m":0.044},{"t":9518.626,"m":0.019},{"t":9518.654,"m":0.061},{"t":9518.676,"m":0.124},{"t":9518.690,"m":0.170},{"t":9518.701,"m":0.192},{"t":9518.706,"m":0.198},{"t":9518.710,"m":0.200},{"t":9518.714,"m":0.198},{"t":9518.719,"m":0.192},{"t":9518.730,"m":0.170},{"t":9518.743,"m":0.124},{"t":9518.763,"m":0.061},{"t":9518.793,"m":0.001},{"t":9518.905,"m":0.009},{"t":9518.928,"m":0.040},{"t":9518.945,"m":0.070},{"t":9518.960,"m":0.082},{"t":9518.970,"m":0.086},{"t":9518.980,"m":0.080},{"t":9518.995,"m":0.062},{"t":9519.000,"m":0.053}
]
},
"layer": [
{
 "data": {"name": "tess"},
 "mark": {"type": "point", "filled": true, "size": 900, "opacity": 1, "clip": true},
 "encoding": {
  "x": {"field": "t", "type": "quantitative", "scale": {"domain": [9516, 9519], "nice": false, "zero": false},
        "axis": {"orient": "bottom", "values": [9516, 9516.5, 9517, 9517.5, 9518, 9518.5, 9519], "format": ".1f", "tickSize": -6, "labelPadding": 26, "labelBaseline": "alphabetic", "title": "JD - 2 450 000", "titleY": 39, "titleBaseline": "alphabetic"}},
  "y": {"field": "m", "type": "quantitative", "scale": {"domain": [-0.05, 0.26], "reverse": true, "nice": false, "zero": false},
        "axis": {"orient": "left", "values": [-0.05, 0, 0.05, 0.1, 0.15, 0.2, 0.25], "format": ".2f", "tickSize": -6, "labelPadding": 12, "title": "magnitude + constant", "titleX": -69, "titleY": 122, "titleAngle": -90, "titleBaseline": "middle", "titleAlign": "center"}},
  "color": {"datum": "TESS 2-min", "type": "nominal",
        "scale": {"domain": ["TESS 2-min", "ground", "model ground", "model TESS"], "range": ["#8c8c8c", "#1f77b4", "#ffa500", "#ffa500"]},
        "legend": {"orient": "none", "legendX": 132, "legendY": 144, "title": null, "padding": 2, "rowPadding": -1.9, "symbolSize": 900, "symbolStrokeWidth": 1.8, "labelOffset": 9, "labelFontSize": 13.9, "labelFont": "DejaVu Sans", "labelColor": "#000000", "fillColor": "rgba(255,255,255,0.8)", "strokeColor": "#cccccc", "cornerRadius": 3}},
  "shape": {"datum": "TESS 2-min", "type": "nominal",
        "scale": {"domain": ["TESS 2-min", "ground", "model ground", "model TESS"], "range": ["M-0.18,0A0.18,0.18 0 1,0 0.18,0A0.18,0.18 0 1,0 -0.18,0Z", "M-0.167,-0.167H0.167V0.167H-0.167Z", "stroke", "stroke"]}}
 }
},
{
 "data": {"name": "ground"},
 "mark": {"type": "point", "filled": true, "size": 900, "opacity": 1, "clip": true},
 "encoding": {
  "x": {"field": "t", "type": "quantitative", "axis": {"orient": "top", "values": [9516, 9516.5, 9517, 9517.5, 9518, 9518.5, 9519], "tickSize": -6, "labels": false, "title": null}},
  "y": {"field": "m", "type": "quantitative", "axis": {"orient": "right", "values": [-0.05, 0, 0.05, 0.1, 0.15, 0.2, 0.25], "tickSize": -6, "labels": false, "title": null}},
  "color": {"datum": "ground", "type": "nominal"},
  "shape": {"datum": "ground", "type": "nominal"}
 }
},
{
 "data": {"name": "mg"},
 "mark": {"type": "line", "strokeWidth": 2.4, "clip": true},
 "encoding": {
  "x": {"field": "t", "type": "quantitative", "axis": {"orient": "bottom", "values": [9516.1, 9516.2, 9516.3, 9516.4, 9516.6, 9516.7, 9516.8, 9516.9, 9517.1, 9517.2, 9517.3, 9517.4, 9517.6, 9517.7, 9517.8, 9517.9, 9518.1, 9518.2, 9518.3, 9518.4, 9518.6, 9518.7, 9518.8, 9518.9], "tickSize": -3, "labels": false, "title": null}},
  "y": {"field": "m", "type": "quantitative", "axis": {"orient": "left", "values": [-0.04, -0.03, -0.02, -0.01, 0.01, 0.02, 0.03, 0.04, 0.06, 0.07, 0.08, 0.09, 0.11, 0.12, 0.13, 0.14, 0.16, 0.17, 0.18, 0.19, 0.21, 0.22, 0.23, 0.24], "tickSize": -3, "labels": false, "title": null}},
  "color": {"datum": "model ground", "type": "nominal"},
  "strokeDash": {"datum": "model ground", "type": "nominal",
        "scale": {"domain": ["TESS 2-min", "ground", "model ground", "model TESS"], "range": [[1, 0], [1, 0], [1, 0], [7.4, 3.2]]}}
 }
},
{
 "data": {"name": "mt"},
 "mark": {"type": "line", "strokeWidth": 2.2, "clip": true},
 "encoding": {
  "x": {"field": "t", "type": "quantitative", "axis": {"orient": "top", "values": [9516.1, 9516.2, 9516.3, 9516.4, 9516.6, 9516.7, 9516.8, 9516.9, 9517.1, 9517.2, 9517.3, 9517.4, 9517.6, 9517.7, 9517.8, 9517.9, 9518.1, 9518.2, 9518.3, 9518.4, 9518.6, 9518.7, 9518.8, 9518.9], "tickSize": -3, "labels": false, "title": null}},
  "y": {"field": "m", "type": "quantitative", "axis": {"orient": "right", "values": [-0.04, -0.03, -0.02, -0.01, 0.01, 0.02, 0.03, 0.04, 0.06, 0.07, 0.08, 0.09, 0.11, 0.12, 0.13, 0.14, 0.16, 0.17, 0.18, 0.19, 0.21, 0.22, 0.23, 0.24], "tickSize": -3, "labels": false, "title": null}},
  "color": {"datum": "model TESS", "type": "nominal"},
  "strokeDash": {"datum": "model TESS", "type": "nominal"}
 }
}
]
}
